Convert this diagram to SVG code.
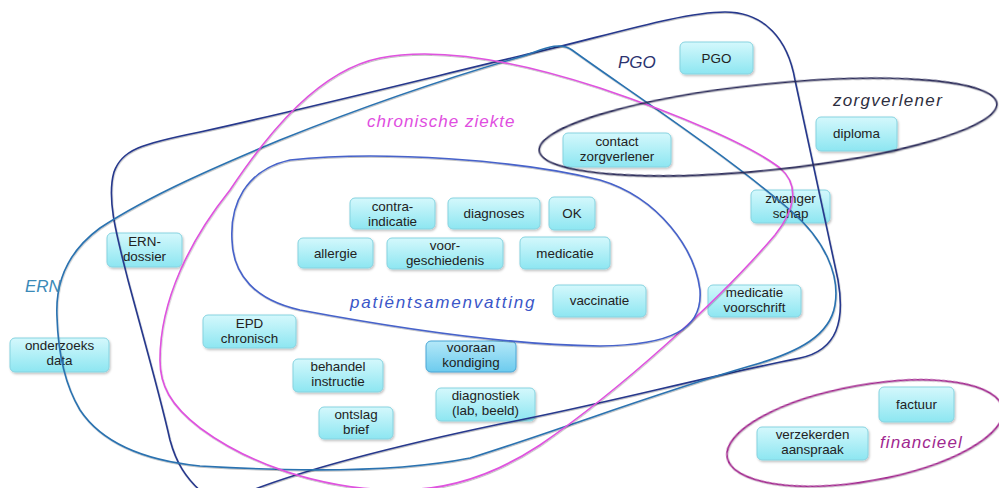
<svg xmlns="http://www.w3.org/2000/svg" width="999" height="488" viewBox="0 0 999 488">
<defs>
<linearGradient id="g" x1="0" y1="0" x2="0" y2="1">
<stop offset="0" stop-color="#d4f8fc"/>
<stop offset="1" stop-color="#8de6f1"/>
</linearGradient>
<linearGradient id="g2" x1="0" y1="0" x2="0" y2="1">
<stop offset="0" stop-color="#b4e8f8"/>
<stop offset="1" stop-color="#6ccbee"/>
</linearGradient>
<filter id="sh" x="-10%" y="-10%" width="130%" height="140%">
<feDropShadow dx="1" dy="1.5" stdDeviation="1" flood-color="#000" flood-opacity="0.25"/>
</filter>
<filter id="ls" x="-5%" y="-5%" width="110%" height="110%">
<feDropShadow dx="0.5" dy="1" stdDeviation="0.6" flood-color="#000" flood-opacity="0.25"/>
</filter>
</defs>
<style>
.n rect{fill:url(#g);stroke:#86d3e0;stroke-width:1;filter:url(#sh)}
.n.d rect{fill:url(#g2);stroke:#4aa6d6}
.n text{font-family:"Liberation Sans",Arial,sans-serif;font-size:13.4px;fill:#222;text-anchor:middle}
.s{fill:none;stroke-width:1.6;filter:url(#ls)}
.lbl{font-family:"Liberation Sans",Arial,sans-serif;font-style:italic;font-size:17px}
</style>
<rect width="999" height="488" fill="#fff"/>

<g id="node-pgo" class="n"><rect x="680" y="42" width="73" height="32" rx="5"/><text x="716.5" y="63">PGO</text></g>
<g id="node-contact" class="n"><rect x="563" y="133" width="108" height="34" rx="5"/><text x="617" y="146">contact</text><text x="617" y="161">zorgverlener</text></g>
<g id="node-diploma" class="n"><rect x="816" y="117" width="81" height="34" rx="5"/><text x="856.5" y="138">diploma</text></g>
<g id="node-zwangerschap" class="n"><rect x="751" y="190" width="79" height="33" rx="5"/><text x="790.5" y="203">zwanger</text><text x="790.5" y="218">schap</text></g>
<g id="node-contra" class="n"><rect x="350" y="198" width="85" height="31" rx="5"/><text x="392.5" y="211">contra-</text><text x="392.5" y="226">indicatie</text></g>
<g id="node-diagnoses" class="n"><rect x="448" y="198" width="92" height="31" rx="5"/><text x="494" y="218">diagnoses</text></g>
<g id="node-ok" class="n"><rect x="549" y="197" width="46" height="33" rx="5"/><text x="572" y="218">OK</text></g>
<g id="node-allergie" class="n"><rect x="298" y="238" width="75" height="30" rx="5"/><text x="335.5" y="258">allergie</text></g>
<g id="node-voorgeschiedenis" class="n"><rect x="387" y="238" width="116" height="31" rx="5"/><text x="445" y="250">voor-</text><text x="445" y="265">geschiedenis</text></g>
<g id="node-medicatie" class="n"><rect x="520" y="237" width="90" height="32" rx="5"/><text x="565" y="258">medicatie</text></g>
<g id="node-vaccinatie" class="n"><rect x="553" y="285" width="93" height="32" rx="5"/><text x="599.5" y="305">vaccinatie</text></g>
<g id="node-medicatievoorschrift" class="n"><rect x="708" y="285" width="93" height="32" rx="5"/><text x="754.5" y="297">medicatie</text><text x="754.5" y="312">voorschrift</text></g>
<g id="node-erndossier" class="n"><rect x="107" y="233" width="75" height="34" rx="5"/><text x="144.5" y="246">ERN-</text><text x="144.5" y="261">dossier</text></g>
<g id="node-onderzoeksdata" class="n"><rect x="10" y="338" width="99" height="34" rx="5"/><text x="59.5" y="350">onderzoeks</text><text x="59.5" y="365">data</text></g>
<g id="node-epd" class="n"><rect x="203" y="315" width="93" height="33" rx="5"/><text x="249.5" y="328">EPD</text><text x="249.5" y="343">chronisch</text></g>
<g id="node-behandel" class="n"><rect x="293" y="359" width="90" height="33" rx="5"/><text x="338" y="371">behandel</text><text x="338" y="386">instructie</text></g>
<g id="node-ontslag" class="n"><rect x="319" y="407" width="74" height="32" rx="5"/><text x="356" y="419">ontslag</text><text x="356" y="434">brief</text></g>
<g id="node-vooraankondiging" class="n d"><rect x="426" y="341" width="90" height="31" rx="5"/><text x="471" y="352">vooraan</text><text x="471" y="367">kondiging</text></g>
<g id="node-diagnostiek" class="n"><rect x="436" y="388" width="99" height="33" rx="5"/><text x="485.5" y="400">diagnostiek</text><text x="485.5" y="415">(lab, beeld)</text></g>
<g id="node-factuur" class="n"><rect x="879" y="387" width="75" height="35" rx="5"/><text x="916.5" y="409">factuur</text></g>
<g id="node-verzekerden" class="n"><rect x="757" y="427" width="111" height="33" rx="5"/><text x="812.5" y="439">verzekerden</text><text x="812.5" y="454">aanspraak</text></g>

<g id="connectors">
<path id="set-pgo" class="s" stroke="#26388c" d="M205,495 C185,478 176,462 170,440 C160,395 140,325 128,280 C118,240 106,200 114,172 C122,150 140,144 200,132 C300,110 420,80 520,56 C600,38 680,12 725,12 C765,12 788,40 795,80 C810,150 825,220 838,280 C845,320 838,350 800,358 C700,378 600,405 500,424 C400,445 300,470 240,495"/>
<path id="set-ern" class="s" stroke="#2a72b0" d="M57,317 C55,280 70,250 100,228 C150,195 220,165 280,140 C360,108 440,80 520,57 C540,51 558,40 572,50 C620,85 720,150 790,210 C825,240 840,275 835,305 C830,335 800,352 750,366 C650,395 560,430 470,458 C400,472 300,472 200,466 C140,460 100,440 80,410 C65,385 58,350 57,317 Z"/>
<path id="set-chronisch" class="s" stroke="#df52df" d="M160,360 C160,300 190,240 230,190 C270,130 320,70 380,58 C440,46 520,62 600,88 C680,115 750,145 780,168 C800,185 795,210 775,235 C720,300 620,390 540,445 C490,478 440,492 390,490 C320,488 250,465 200,428 C170,405 160,385 160,360 Z"/>
<path id="set-patient" class="s" stroke="#4662ca" d="M232,240 C230,205 245,170 290,160 C380,150 520,160 600,180 C660,198 695,250 700,290 C703,330 670,345 600,346 C500,345 380,325 300,310 C255,300 233,275 232,240 Z"/>
<ellipse id="set-zorgverlener" class="s" stroke="#2a2a58" cx="768" cy="127" rx="230" ry="43" transform="rotate(-5.9 768 127)"/>
<ellipse id="set-financieel" class="s" stroke="#a0248c" cx="865" cy="433" rx="140" ry="48" transform="rotate(-10 865 433)"/>
<text class="lbl" x="618" y="68" fill="#2c3470">PGO</text>
<text class="lbl" x="367" y="127" fill="#e04ee0" letter-spacing="1.0">chronische ziekte</text>
<text class="lbl" x="833" y="106" fill="#2e2e3e" letter-spacing="1.3">zorgverlener</text>
<text class="lbl" x="350" y="308" fill="#3a56c8" letter-spacing="1.8">patiëntsamenvatting</text>
<text class="lbl" x="25" y="292" fill="#3a8ab8" font-size="15">ERN</text>
<text class="lbl" x="880" y="448" fill="#a02890" letter-spacing="1.1">financieel</text>
</g>
</svg>
